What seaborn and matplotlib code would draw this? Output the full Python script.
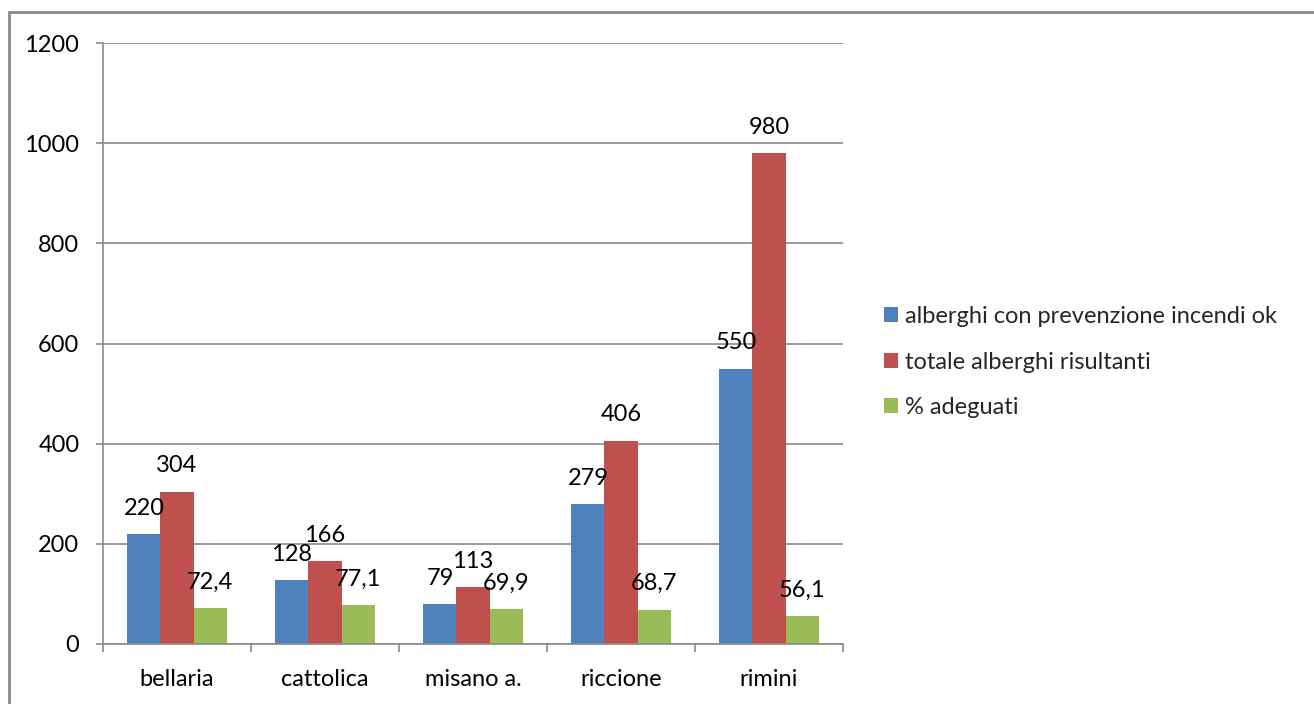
import seaborn as sns
import pandas as pd
import matplotlib.pyplot as plt
from matplotlib.patches import Rectangle
from matplotlib.ticker import FixedLocator, NullFormatter

# dati
comuni = ["bellaria", "cattolica", "misano a.", "riccione", "rimini"]
serie = ["alberghi con prevenzione incendi ok", "totale alberghi risultanti", "% adeguati"]
alberghi_ok = [220, 128, 79, 279, 550]
totale_alberghi = [304, 166, 113, 406, 980]
perc_adeguati = [72.4, 77.1, 69.9, 68.7, 56.1]
colori = ["#4F81BD", "#C0504D", "#9BBB59"]

df = pd.DataFrame({
    "comune": comuni * 3,
    "serie": [serie[0]] * 5 + [serie[1]] * 5 + [serie[2]] * 5,
    "valore": alberghi_ok + totale_alberghi + perc_adeguati,
})

sns.set_style("white")
plt.rcParams["font.family"] = ["Lato", "DejaVu Sans"]
fs = 17

fig = plt.figure(figsize=(13.14, 7.04), dpi=100)
ax = fig.add_axes([103 / 1314, 1 - 644 / 704, 740 / 1314, 601 / 704])

sns.barplot(data=df, x="comune", y="valore", hue="serie", palette=colori,
            width=0.67, saturation=1, linewidth=0, ax=ax, legend=True)

# etichette dei valori sopra le barre
for cont in ax.containers:
    for b in cont:
        v = b.get_height()
        lab = f"{v:g}".replace(".", ",")
        ax.annotate(lab, (b.get_x() + b.get_width() / 2, v),
                    xytext=(0, 11), textcoords="offset points",
                    ha="center", va="bottom", fontsize=fs, color="#000000")

ax.set_ylim(0, 1200)
ax.set_xlim(-0.5, 4.5)
ax.set_yticks(range(0, 1201, 200))
ax.yaxis.grid(True, color="#8a8a8a", linewidth=1.2)
ax.set_axisbelow(True)
ax.set_xlabel("")
ax.set_ylabel("")

for s in ["top", "right"]:
    ax.spines[s].set_visible(False)
for s in ["left", "bottom"]:
    ax.spines[s].set_color("#8a8a8a")
    ax.spines[s].set_linewidth(1.2)

ax.tick_params(axis="y", direction="out", length=5, width=1.2, color="#8a8a8a",
               pad=12, labelsize=fs, left=True)
ax.tick_params(axis="x", which="major", length=0, pad=18, labelsize=fs)
ax.xaxis.set_minor_locator(FixedLocator([-0.5, 0.5, 1.5, 2.5, 3.5, 4.5]))
ax.xaxis.set_minor_formatter(NullFormatter())
ax.tick_params(axis="x", which="minor", direction="out", length=6, width=1.2,
               color="#8a8a8a", bottom=True)
for t in ax.get_xticklabels() + ax.get_yticklabels():
    t.set_color("#000000")

ax.legend(loc="center left", bbox_to_anchor=(884 / 1314, 1 - 362 / 704),
          bbox_transform=fig.transFigure, frameon=False, fontsize=fs,
          handlelength=0.6, handleheight=0.6, handletextpad=0.3,
          labelspacing=1.05, borderpad=0, borderaxespad=0)

# cornice del grafico
fig.patches.append(Rectangle((9 / 1314, -0.5), 2, 1.5 - 12 / 704,
                             transform=fig.transFigure, fill=False,
                             edgecolor="#8a8a8a", linewidth=2))

fig.savefig("out.png", dpi=100)
plt.close(fig)
